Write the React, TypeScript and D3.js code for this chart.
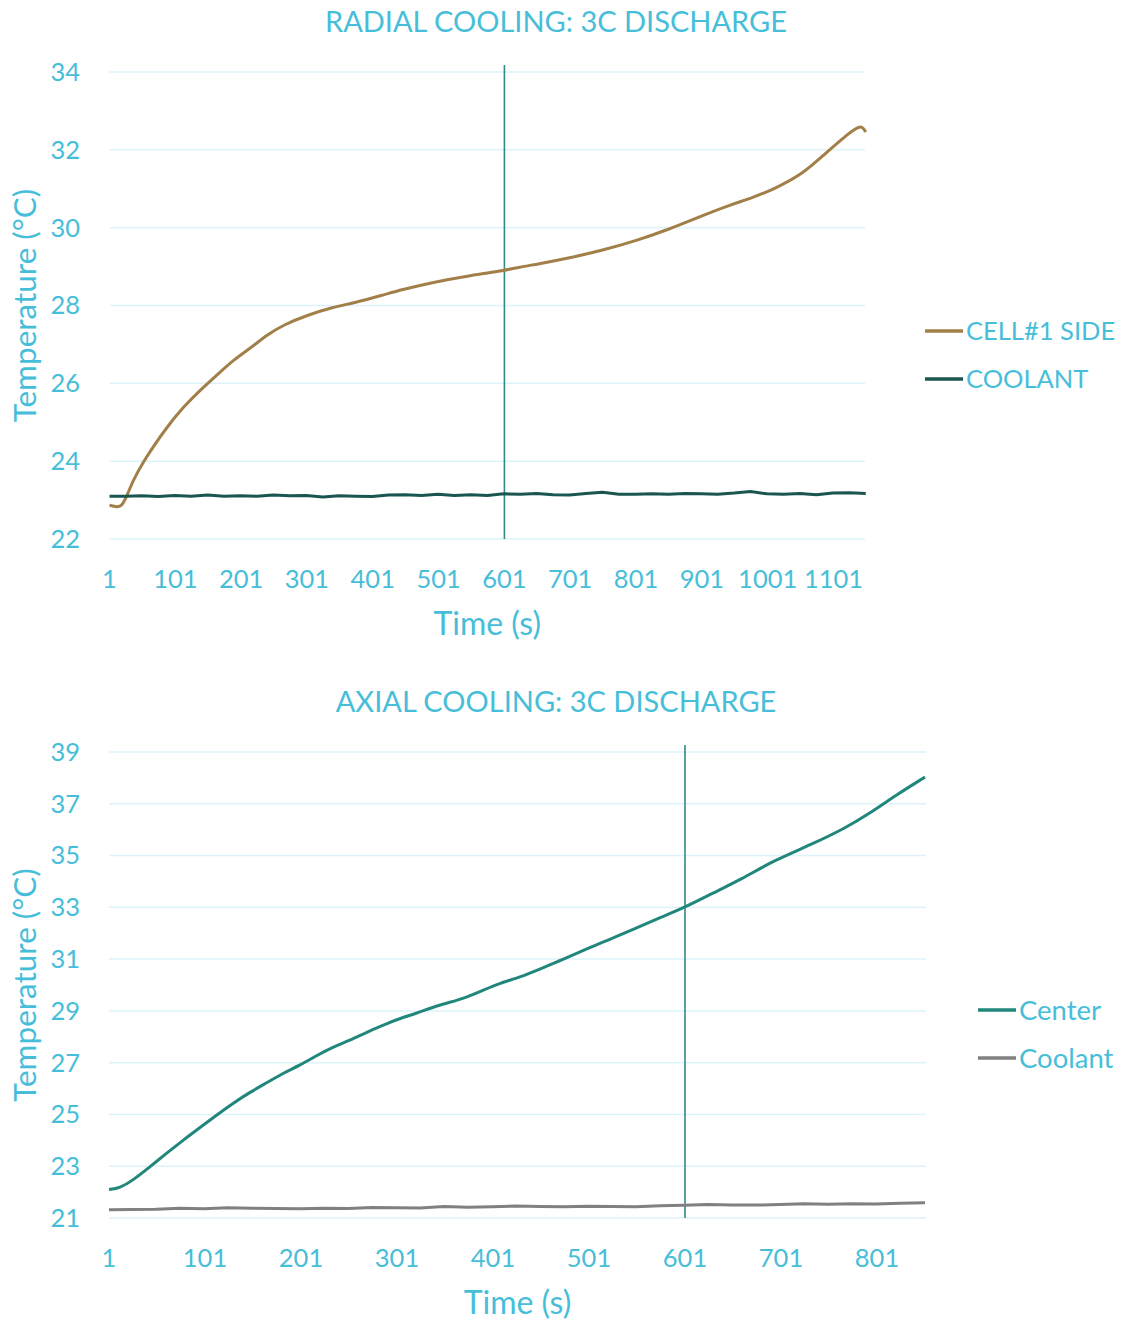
import React from "react";
import * as d3 from "d3";

// ---------- Data: Radial cooling ----------
const radialCellTime = [1, 12, 20, 28, 37, 52, 67, 88, 113, 139, 164, 189, 215, 240, 265, 301, 341, 371, 417, 443, 493, 545, 595, 625, 650, 700, 750, 800, 850, 900, 946, 975, 1012, 1056, 1088, 1121, 1135, 1144, 1150];
const radialCellTemp = [22.87, 22.82, 22.84, 23.13, 23.51, 23.97, 24.36, 24.87, 25.39, 25.83, 26.21, 26.6, 26.9, 27.24, 27.5, 27.75, 27.96, 28.06, 28.27, 28.4, 28.6, 28.76, 28.88, 28.99, 29.06, 29.22, 29.42, 29.66, 29.95, 30.3, 30.6, 30.75, 31.0, 31.4, 31.9, 32.38, 32.55, 32.62, 32.46];
const radialCoolTime = [1, 25, 50, 75, 100, 125, 150, 175, 200, 225, 250, 275, 300, 325, 350, 375, 400, 425, 450, 475, 500, 525, 550, 575, 600, 625, 650, 675, 700, 725, 750, 775, 800, 825, 850, 875, 900, 925, 950, 975, 1000, 1025, 1050, 1075, 1100, 1125, 1150];
const radialCoolTemp = [23.1, 23.1, 23.11, 23.09, 23.12, 23.1, 23.13, 23.1, 23.11, 23.1, 23.13, 23.11, 23.12, 23.08, 23.11, 23.1, 23.09, 23.13, 23.14, 23.12, 23.15, 23.12, 23.14, 23.12, 23.16, 23.15, 23.17, 23.14, 23.13, 23.17, 23.2, 23.15, 23.15, 23.16, 23.15, 23.17, 23.16, 23.15, 23.18, 23.22, 23.16, 23.15, 23.17, 23.14, 23.18, 23.19, 23.17];
const radialXTicks = [1, 101, 201, 301, 401, 501, 601, 701, 801, 901, 1001, 1101];
const radialYTicks = [22, 24, 26, 28, 30, 32, 34];
const radialMarker = 601;
const radialLegend = ["CELL#1 SIDE", "COOLANT"];

// ---------- Data: Axial cooling ----------
const axialCenterTime = [1, 12, 26, 43, 61, 78, 96, 113, 130, 148, 166, 182, 200, 218, 234, 252, 269, 286, 304, 321, 338, 356, 374, 391, 408, 429, 450, 475, 500, 525, 550, 575, 601, 630, 660, 693, 731, 768, 794, 821, 851];
const axialCenterTemp = [22.1, 22.15, 22.46, 22.96, 23.5, 24.0, 24.5, 24.97, 25.43, 25.86, 26.24, 26.59, 26.9, 27.29, 27.6, 27.86, 28.17, 28.44, 28.71, 28.9, 29.14, 29.33, 29.53, 29.8, 30.07, 30.3, 30.62, 31.0, 31.42, 31.8, 32.2, 32.6, 33.0, 33.55, 34.09, 34.8, 35.4, 36.06, 36.64, 37.34, 38.03];
const axialCoolTime = [1, 25, 50, 75, 100, 125, 150, 175, 200, 225, 250, 275, 300, 325, 350, 375, 400, 425, 450, 475, 500, 525, 550, 575, 600, 625, 650, 675, 700, 725, 750, 775, 800, 825, 851];
const axialCoolTemp = [21.32, 21.33, 21.34, 21.38, 21.36, 21.4, 21.38, 21.37, 21.36, 21.38, 21.37, 21.41, 21.4, 21.39, 21.44, 21.42, 21.43, 21.46, 21.44, 21.43, 21.45, 21.44, 21.43, 21.47, 21.49, 21.52, 21.5, 21.5, 21.52, 21.55, 21.53, 21.55, 21.54, 21.57, 21.59];
const axialXTicks = [1, 101, 201, 301, 401, 501, 601, 701, 801];
const axialYTicks = [21, 23, 25, 27, 29, 31, 33, 35, 37, 39];
const axialMarker = 601;
const axialLegend = ["Center", "Coolant"];

const TEXT = "#47BED9";
const GRID = "#DDF3F9";
const FONT = "Lato, 'Open Sans', sans-serif";

type Series = { time: number[]; temp: number[]; color: string; smooth: boolean };

function Chart(props: {
  title: string;
  titleY: number;
  xTicks: number[];
  yTicks: number[];
  xDomain: [number, number];
  xRange: [number, number];
  yDomain: [number, number];
  yRange: [number, number];
  gridRight: number;
  series: Series[];
  marker: number;
  legend: string[];
  legendX: number;
  legendY: number[];
  legendSize: number;
}) {
  const x = d3.scaleLinear().domain(props.xDomain).range(props.xRange);
  const y = d3.scaleLinear().domain(props.yDomain).range(props.yRange);
  const left = props.xRange[0];
  const right = props.gridRight;
  const bottom = props.yRange[0];
  const top = props.yRange[1];
  const mid = (left + right) / 2;
  return (
    <g>
      <text x={556} y={props.titleY} textAnchor="middle" fill={TEXT} fontSize={29} fontFamily={FONT}>
        {props.title}
      </text>
      {props.yTicks.map((t) => (
        <g key={"y" + t}>
          <line x1={left} x2={right} y1={y(t)} y2={y(t)} stroke={GRID} strokeWidth={1.5} />
          <text x={80} y={y(t)} dy="0.35em" textAnchor="end" fill={TEXT} fontSize={25.5} fontFamily={FONT}>
            {t}
          </text>
        </g>
      ))}
      {props.xTicks.map((t) => (
        <text key={"x" + t} x={x(t)} y={bottom + 49} textAnchor="middle" fill={TEXT} fontSize={25.5} fontFamily={FONT}>
          {t}
        </text>
      ))}
      <text x={mid} y={bottom + 96} textAnchor="middle" fill={TEXT} fontSize={32} fontFamily={FONT}>
        Time (s)
      </text>
      <text
        transform={`translate(36,${(top + bottom) / 2}) rotate(-90)`}
        textAnchor="middle"
        fill={TEXT}
        fontSize={31.5}
        fontFamily={FONT}
      >
        Temperature (°C)
      </text>
      <line x1={x(props.marker)} x2={x(props.marker)} y1={top - 7} y2={bottom} stroke="#2E8B86" strokeWidth={1.6} />
      {props.series.map((s, i) => {
        const pts = s.time.map((t, k) => [t, s.temp[k]] as [number, number]);
        const path = d3
          .line<[number, number]>()
          .x((d) => x(d[0]))
          .y((d) => y(d[1]))
          .curve(s.smooth ? d3.curveBasis : d3.curveLinear)(pts);
        return <path key={i} d={path || ""} fill="none" stroke={s.color} strokeWidth={3} strokeLinejoin="round" />;
      })}
      {props.legend.map((name, i) => (
        <g key={name}>
          <line
            x1={props.legendX}
            x2={props.legendX + 38}
            y1={props.legendY[i]}
            y2={props.legendY[i]}
            stroke={props.series[i].color}
            strokeWidth={3.5}
          />
          <text x={props.legendX + 41} y={props.legendY[i]} dy="0.35em" fill={TEXT} fontSize={props.legendSize} fontFamily={FONT}>
            {name}
          </text>
        </g>
      ))}
    </g>
  );
}

export default function App() {
  return (
    <svg
      width={1121}
      height={1321}
      style={{ position: "absolute", left: 0, top: 0, background: "#fff" }}
    >
      <rect width={1121} height={1321} fill="#fff" />
      <Chart
        title="RADIAL COOLING: 3C DISCHARGE"
        titleY={32}
        xTicks={radialXTicks}
        yTicks={radialYTicks}
        xDomain={[1, 1101]}
        xRange={[109.5, 833.5]}
        yDomain={[22, 34]}
        yRange={[539, 72]}
        gridRight={865}
        series={[
          { time: radialCellTime, temp: radialCellTemp, color: "#A27F48", smooth: true },
          { time: radialCoolTime, temp: radialCoolTemp, color: "#1A5650", smooth: false },
        ]}
        marker={radialMarker}
        legend={radialLegend}
        legendX={925}
        legendY={[331, 379]}
        legendSize={25.5}
      />
      <Chart
        title="AXIAL COOLING: 3C DISCHARGE"
        titleY={712}
        xTicks={axialXTicks}
        yTicks={axialYTicks}
        xDomain={[1, 801]}
        xRange={[109, 877]}
        yDomain={[21, 39]}
        yRange={[1218, 752]}
        gridRight={926}
        series={[
          { time: axialCenterTime, temp: axialCenterTemp, color: "#21867C", smooth: true },
          { time: axialCoolTime, temp: axialCoolTemp, color: "#808080", smooth: false },
        ]}
        marker={axialMarker}
        legend={axialLegend}
        legendX={978}
        legendY={[1010, 1058]}
        legendSize={27.5}
      />
    </svg>
  );
}
